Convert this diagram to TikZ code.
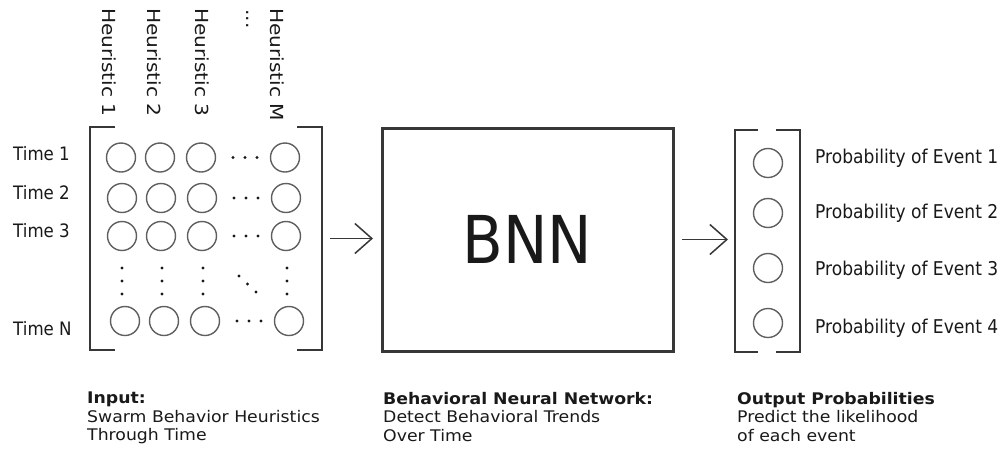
\documentclass[tikz,border=0pt]{standalone}
\usepackage{fontspec}
\setmainfont{DejaVu Sans}
\newfontfamily\tallfont[FakeStretch=0.9]{DejaVu Sans}
\newfontfamily\longfont[FakeStretch=1.12]{DejaVu Sans}
\newfontfamily\capfont[FakeStretch=1.08]{DejaVu Sans}
\usetikzlibrary{
    arrows.meta,
    positioning
}
\definecolor{lineGray}{RGB}{55,55,55}
\definecolor{cellGray}{RGB}{95,95,95}
\definecolor{inkBlack}{RGB}{25,25,25}
\tikzset{
  cell/.style    = {circle, draw=cellGray, line width=1.4pt,
                    minimum size=29pt, inner sep=0pt},
  frame/.style   = {rectangle, inner sep=0pt, outer sep=0pt},
  brk/.style     = {draw=lineGray, line width=2pt},
  bnnbox/.style  = {frame, draw=lineGray, line width=3pt, minimum width=291pt,
                    minimum height=223pt, text=inkBlack,
                    font=\tallfont\fontsize{66}{70}\selectfont},
  rowlab/.style  = {anchor=base west, inner sep=0pt, text=inkBlack,
                    font=\tallfont\fontsize{18.5}{22}\selectfont},
  collab/.style  = {rotate=-90, anchor=west, inner sep=0pt, text=inkBlack,
                    font=\longfont\fontsize{18}{22}\selectfont},
  problab/.style = {anchor=base west, inner sep=0pt, text=inkBlack,
                    font=\tallfont\fontsize{19}{22}\selectfont},
  caption/.style = {anchor=north west, inner sep=0pt, align=left, text=inkBlack,
                    font=\capfont\fontsize{16}{18.5}\selectfont},
  arr/.style     = {-{Straight Barb[length=17pt,width=30pt]}, line width=1.5pt, lineGray},
  mdot/.style    = {fill=inkBlack}
}

\begin{document}
\begin{tikzpicture}[x=1pt, y=-1pt]
    \useasboundingbox (0,0) rectangle (1007,448);

    % input matrix
    \node[frame, minimum width=232pt, minimum height=223pt] (inmat) at (206,238.5) {};
    \draw[brk] ([xshift=25pt]inmat.north west) -- (inmat.north west)
      -- (inmat.south west) -- ++(25,0);
    \draw[brk] ([xshift=-25pt]inmat.north east) -- (inmat.north east)
      -- (inmat.south east) -- ++(-25,0);

    \foreach \r/\y/\dx in {1/157.5/0, 2/198/1, 3/236/1, N/321/4} {
      \foreach \c/\x in {1/121, 2/160, 3/201, M/285}
        \node[cell] (c\r\c) at ({\x+\dx},\y) {};
      \foreach \k in {-12,0,12}
        \fill[mdot] ({245+\dx+\k},\y) circle (1.6);
    }
    \foreach \x in {122,162,203,287}
      \foreach \y in {268,281,294}
        \fill[mdot] (\x,\y) circle (1.6);
    \foreach \x/\y in {239/276, 247.5/284, 256/292}
      \fill[mdot] (\x,\y) circle (1.6);

    \node[rowlab] (t1) at (13,160) {Time 1};
    \node[rowlab] (t2) at (13,199) {Time 2};
    \node[rowlab] (t3) at (13,237) {Time 3};
    \node[rowlab] (tN) at (13,335) {Time N};

    \node[collab] (h1) at (109,8) {Heuristic 1};
    \node[collab] (h2) at (154,8) {Heuristic 2};
    \node[collab] (h3) at (202,8) {Heuristic 3};
    \node[collab, anchor=base west] (hdots) at (246,9) {...};
    \node[collab] (hM) at (277,8) {Heuristic M};

    % network
    \node[bnnbox] (bnn) at (527.5,239.5) {BNN};

    % output vector
    \node[frame, minimum width=65pt, minimum height=222pt] (outvec) at (767.5,241) {};
    \draw[brk] ([xshift=23pt]outvec.north west) -- (outvec.north west)
      -- (outvec.south west) -- ++(23,0);
    \draw[brk] ([xshift=-24pt]outvec.north east) -- (outvec.north east)
      -- (outvec.south east) -- ++(-24,0);

    \node[cell] (p1) at (768,163) {};
    \node[cell] (p2) at (768,213) {};
    \node[cell] (p3) at (768,268) {};
    \node[cell] (p4) at (768,323) {};

    \node[problab] (e1) at (815,163) {Probability of Event 1};
    \node[problab] (e2) at (815,218) {Probability of Event 2};
    \node[problab] (e3) at (815,275) {Probability of Event 3};
    \node[problab] (e4) at (815,333) {Probability of Event 4};

    \draw[arr, shorten <=8pt, shorten >=9pt] (inmat.east) -- (inmat.east -| bnn.west);
    \draw[arr, shorten <=9pt, shorten >=7pt] (bnn.east) -- (bnn.east -| outvec.west);

    % captions
    \node[caption] (capin)  at (87,392)
      {\textbf{Input:}\\Swarm Behavior Heuristics\\Through Time};
    \node[caption] (capbnn) at (383,392)
      {\textbf{Behavioral Neural Network:}\\Detect Behavioral Trends\\Over Time};
    \node[caption] (capout) at (737,392)
      {\textbf{Output Probabilities}\\Predict the likelihood\\of each event};
  \end{tikzpicture}
\end{document}
